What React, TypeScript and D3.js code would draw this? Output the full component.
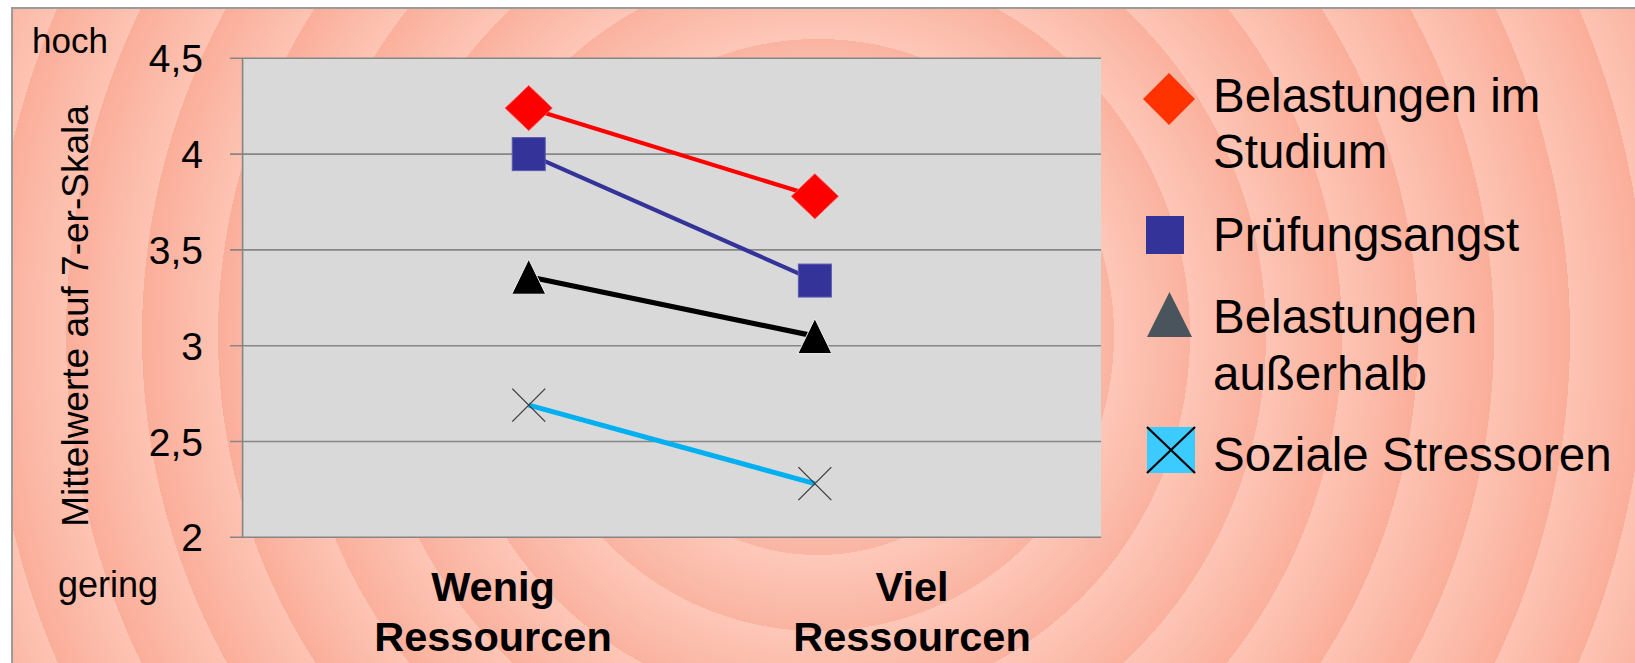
import React from "react";
import * as d3 from "d3";

// ---- data ----
const categories = ["Wenig Ressourcen", "Viel Ressourcen"];
const categoryLines = [
  ["Wenig", "Ressourcen"],
  ["Viel", "Ressourcen"],
];
const yTicks = [2, 2.5, 3, 3.5, 4, 4.5];

const seriesNames = [
  ["Belastungen im", "Studium"],
  ["Prüfungsangst"],
  ["Belastungen", "außerhalb"],
  ["Soziale Stressoren"],
];
const belastungenStudium = [4.24, 3.78];
const pruefungsangst = [4.0, 3.34];
const belastungenAusserhalb = [3.36, 3.05];
const sozialeStressoren = [2.69, 2.28];

const W = 1635;
const H = 663;
const FONT = "'Liberation Sans', Arial, Helvetica, sans-serif";

type Shape = "diamond" | "square" | "triangle" | "cross";

const series: {
  values: number[];
  line: string;
  lineWidth: number;
  shape: Shape;
  fill: string;
  legendFill: string;
}[] = [
  { values: belastungenStudium, line: "#FF0000", lineWidth: 4.2, shape: "diamond", fill: "#FF0000", legendFill: "#FF3300" },
  { values: pruefungsangst, line: "#333399", lineWidth: 4.2, shape: "square", fill: "#333399", legendFill: "#333399" },
  { values: belastungenAusserhalb, line: "#000000", lineWidth: 5.2, shape: "triangle", fill: "#000000", legendFill: "#4A545D" },
  { values: sozialeStressoren, line: "#00B0F0", lineWidth: 5, shape: "cross", fill: "none", legendFill: "#3CCBFF" },
];

const fmt = (v: number) => String(v).replace(".", ",");

function Marker({ shape, x, y, fill }: { shape: Shape; x: number; y: number; fill: string }) {
  if (shape === "diamond") {
    const hw = 23.5, hh = 22.5;
    return (
      <path
        d={`M${x},${y - hh}L${x + hw},${y}L${x},${y + hh}L${x - hw},${y}Z`}
        fill={fill}
        stroke="#ff4a4a"
        strokeWidth={1}
      />
    );
  }
  if (shape === "square") {
    const s = 33;
    return <rect x={x - s / 2} y={y - s / 2} width={s} height={s} fill={fill} stroke="#5a5ab4" strokeWidth={1} />;
  }
  if (shape === "triangle") {
    const hw = 17, hh = 17.5;
    return (
      <path
        d={`M${x},${y - hh}L${x + hw},${y + hh}L${x - hw},${y + hh}Z`}
        fill={fill}
        stroke="#f2f2f2"
        strokeWidth={1}
      />
    );
  }
  const h = 16.5;
  return (
    <path
      d={`M${x - h},${y - h}L${x + h},${y + h}M${x + h},${y - h}L${x - h},${y + h}`}
      stroke="#3c3c3c"
      strokeWidth={1.3}
      fill="none"
    />
  );
}

function LegendMarker({ shape, fill, box }: { shape: Shape; fill: string; box: [number, number, number, number] }) {
  const [x0, y0, x1, y1] = box;
  const cx = (x0 + x1) / 2, cy = (y0 + y1) / 2;
  if (shape === "diamond") {
    return <path d={`M${cx},${y0}L${x1},${cy}L${cx},${y1}L${x0},${cy}Z`} fill={fill} />;
  }
  if (shape === "square") {
    return <rect x={x0} y={y0} width={x1 - x0} height={y1 - y0} fill={fill} />;
  }
  if (shape === "triangle") {
    return <path d={`M${cx},${y0}L${x1},${y1}L${x0},${y1}Z`} fill={fill} />;
  }
  return (
    <g>
      <rect x={x0} y={y0} width={x1 - x0} height={y1 - y0} fill={fill} />
      <path d={`M${x0},${y0}L${x1},${y1}M${x1},${y0}L${x0},${y1}`} stroke="#000" strokeWidth={2.2} />
    </g>
  );
}

export default function App() {
  const plot = { left: 242.6, right: 1101, top: 58.3, bottom: 537.3 };

  const x = d3.scalePoint<string>().domain(categories).range([plot.left, plot.right]).padding(1);
  const y = d3.scaleLinear().domain([2, 4.5]).range([plot.bottom, plot.top]);

  const line = d3
    .line<number>()
    .x((_, i) => x(categories[i]) as number)
    .y((d) => y(d));

  // background ring colours (light -> dark ramp, repeating outward)
  const light = "#FDC3B3";
  const dark = "#FAAE9A";
  const mid = d3.interpolateRgb(light, dark)(0.105);

  const legendBoxes: [number, number, number, number][] = [
    [1143, 73, 1195, 125],
    [1146, 216, 1184, 254],
    [1147, 292, 1192, 337],
    [1147, 427, 1195, 473],
  ];
  const legendBaselines = [
    [112, 168],
    [251],
    [333, 390],
    [471],
  ];

  return (
    <svg
      width={W}
      height={H}
      viewBox={`0 0 ${W} ${H}`}
      style={{ position: "absolute", left: 0, top: 0, display: "block" }}
      fontFamily={FONT}
    >
      <defs>
        <radialGradient
          id="rings"
          gradientUnits="userSpaceOnUse"
          cx={818}
          cy={335}
          r={76}
          fx={818}
          fy={335}
          spreadMethod="repeat"
        >
          <stop offset="0" stopColor={mid} />
          <stop offset="0.894" stopColor={dark} />
          <stop offset="0.895" stopColor={light} />
          <stop offset="1" stopColor={mid} />
        </radialGradient>
        <radialGradient id="glow" gradientUnits="userSpaceOnUse" cx={818} cy={335} r={620}>
          <stop offset="0" stopColor="#ffffff" stopOpacity={0.15} />
          <stop offset="0.6" stopColor="#ffffff" stopOpacity={0.05} />
          <stop offset="1" stopColor="#ffffff" stopOpacity={0} />
        </radialGradient>
      </defs>

      <rect x={0} y={0} width={W} height={H} fill="#ffffff" />
      <rect x={12} y={8} width={W - 12} height={H - 8} fill="url(#rings)" />
      <rect x={12} y={8} width={W - 12} height={H - 8} fill="url(#glow)" />
      <path d={`M12,${H}L12,8L${W},8`} fill="none" stroke="#9b9b9b" strokeWidth={2} />

      {/* plot area */}
      <rect x={plot.left} y={plot.top} width={plot.right - plot.left} height={plot.bottom - plot.top} fill="#D9D9D9" />
      {yTicks.map((t) => (
        <line
          key={t}
          x1={plot.left - 12.6}
          x2={plot.right}
          y1={y(t)}
          y2={y(t)}
          stroke="#868686"
          strokeWidth={1.6}
        />
      ))}
      <line x1={plot.left} x2={plot.left} y1={plot.top} y2={plot.bottom} stroke="#868686" strokeWidth={1.6} />

      {/* y tick labels */}
      {yTicks.map((t) => (
        <text key={t} x={203} y={y(t) + 14} fontSize={39} textAnchor="end" fill="#000">
          {fmt(t)}
        </text>
      ))}

      <text x={32} y={53} fontSize={35} fill="#000">hoch</text>
      <text x={58} y={597} fontSize={36} fill="#000">gering</text>
      <text
        transform="translate(88,316) rotate(-90)"
        fontSize={37}
        textAnchor="middle"
        fill="#000"
      >
        Mittelwerte auf 7-er-Skala
      </text>

      {/* category labels */}
      {categoryLines.map((lines, i) => (
        <text
          key={i}
          x={i === 0 ? 493 : 912}
          fontSize={41.5}
          fontWeight="bold"
          textAnchor="middle"
          fill="#000"
        >
          {lines.map((l, j) => (
            <tspan key={j} x={i === 0 ? 493 : 912} y={601 + j * 50}>
              {l}
            </tspan>
          ))}
        </text>
      ))}

      {/* series lines */}
      {series.map((s, i) => (
        <path key={i} d={line(s.values) || ""} fill="none" stroke={s.line} strokeWidth={s.lineWidth} />
      ))}
      {/* markers */}
      {series.map((s, i) =>
        s.values.map((v, j) => (
          <Marker key={`${i}-${j}`} shape={s.shape} x={x(categories[j]) as number} y={y(v)} fill={s.fill} />
        ))
      )}

      {/* legend */}
      {series.map((s, i) => (
        <g key={i}>
          <LegendMarker shape={s.shape} fill={s.legendFill} box={legendBoxes[i]} />
          {seriesNames[i].map((n, j) => (
            <text key={j} x={1213} y={legendBaselines[i][j]} fontSize={47.5} fill="#000">
              {n}
            </text>
          ))}
        </g>
      ))}
    </svg>
  );
}
